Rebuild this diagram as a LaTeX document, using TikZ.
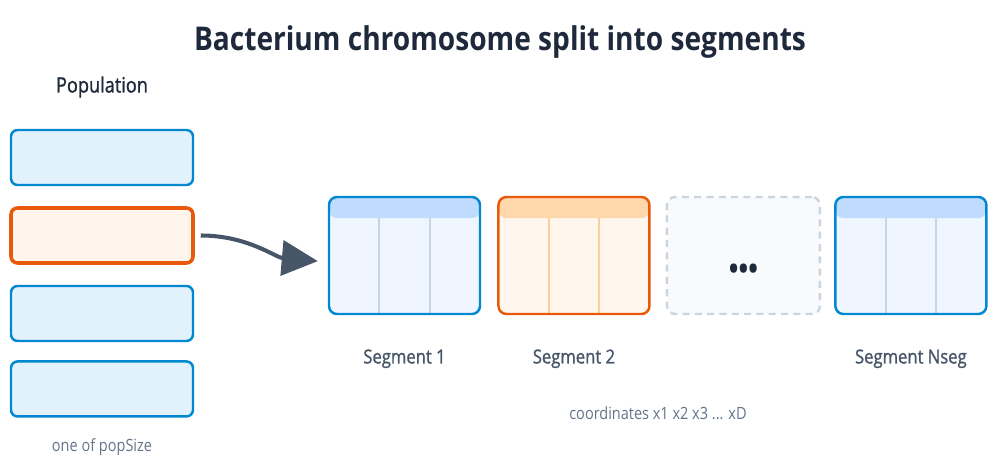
\documentclass[tikz,border=0pt]{standalone}
\usepackage{fontspec}
\setmainfont[FakeStretch=0.86]{Open Sans}
\newfontfamily\mediumfont[FakeStretch=0.86,FakeBold=1.2]{Open Sans}
\usetikzlibrary{
  arrows.meta,
  positioning,
  calc
}
\definecolor{TitleInk}{HTML}{1E293B}
\definecolor{LabelInk}{HTML}{475569}
\definecolor{NoteInk}{HTML}{64748B}
\definecolor{PopBlue}{HTML}{0288D1}
\definecolor{PopTint}{HTML}{E1F2FD}
\definecolor{PickOrange}{HTML}{E8590C}
\definecolor{PickTint}{HTML}{FFF5EC}
\definecolor{SegTint}{HTML}{EFF6FF}
\definecolor{SegHead}{HTML}{BFDBFE}
\definecolor{SegRule}{HTML}{CBD5E1}
\definecolor{OrHead}{HTML}{FED7AA}
\definecolor{OrRule}{HTML}{FDCFA0}
\definecolor{OrTint}{HTML}{FFF7ED}
\definecolor{GapTint}{HTML}{F8FAFC}
\tikzset{
  popbox/.style={
    draw=PopBlue,
    fill=PopTint,
    line width=1.4pt,
    rounded corners=1.3mm,
    minimum width=3.64cm,
    minimum height=1.1cm
  },
  pickbox/.style={popbox,draw=PickOrange,fill=PickTint,line width=2pt},
  segbox/.style n args={4}{
    draw=#1,
    fill=#2,
    line width=1.4pt,
    rounded corners=1.6mm,
    minimum width=3.02cm,
    minimum height=2.34cm,
    path picture={
      \fill[#3] (path picture bounding box.north west) rectangle
        ([yshift=-0.42cm]path picture bounding box.north east);
      \foreach \f in {1,2}
        \draw[#4, line width=1pt]
          ($(path picture bounding box.north west)!\f/3!(path picture bounding box.north east)+(0,-0.42)$) --
          ($(path picture bounding box.south west)!\f/3!(path picture bounding box.south east)$);
    }
  },
  gapbox/.style={
    draw=SegRule,
    fill=GapTint,
    line width=1.4pt,
    dashed,
    dash pattern=on 4pt off 3pt,
    rounded corners=1.6mm,
    minimum width=3.06cm,
    minimum height=2.34cm
  },
  seglabel/.style={font=\mediumfont\fontsize{11}{13}\selectfont, text=LabelInk},
  note/.style={font=\fontsize{9.6}{11}\selectfont, text=NoteInk},
  flowarrow/.style={-{Triangle[length=0.72cm,width=0.7cm]},line width=2.3pt,draw=LabelInk}
}

\begin{document}
\begin{tikzpicture}
  \useasboundingbox (0,0) rectangle (20,-9.34);

  \node[font=\fontsize{18.6}{22}\bfseries, text=TitleInk] (title) at (10,-0.84) {Bacterium chromosome split into segments};
  \node[font=\mediumfont\fontsize{12}{14}\selectfont, text=TitleInk] (poplabel) at (2.04,-1.74) {Population};

  % population column
  \node[popbox] (pop1) at (2.04,-3.15) {};
  \node[pickbox, below=0.4cm of pop1] (pop2) {};
  \node[popbox, below=0.4cm of pop2] (pop3) {};
  \node[popbox, below=0.36cm of pop3] (pop4) {};
  \node[note] (popnote) at (2.04,-8.94) {one of popSize};

  % segments of the picked bacterium
  \node[segbox={PopBlue}{SegTint}{SegHead}{SegRule}] (seg1) at (8.09,-5.11) {};
  \node[segbox={PickOrange}{OrTint}{OrHead}{OrRule}, right=0.32cm of seg1] (seg2) {};
  \node[gapbox, right=0.3cm of seg2] (gap) {};
  \node[font=\fontsize{17}{17}\bfseries, text=TitleInk] (dots) at ([yshift=-0.33cm]gap.center) {•••};
  \node[segbox={PopBlue}{SegTint}{SegHead}{SegRule}, right=0.26cm of gap] (segN) {};

  \node[seglabel, below=0.56cm of seg1] (lab1) {Segment 1};
  \node[seglabel, below=0.56cm of seg2] (lab2) {Segment 2};
  \node[seglabel, below=0.56cm of segN] (labN) {Segment Nseg};
  \node[note] (coords) at (13.16,-8.26) {coordinates x1 x2 x3 ... xD};

  \draw[flowarrow, shorten <=0.12cm, shorten >=0.2cm] (pop2.east) to[out=0,in=175] ([yshift=-0.13cm]seg1.west);
\end{tikzpicture}
\end{document}
